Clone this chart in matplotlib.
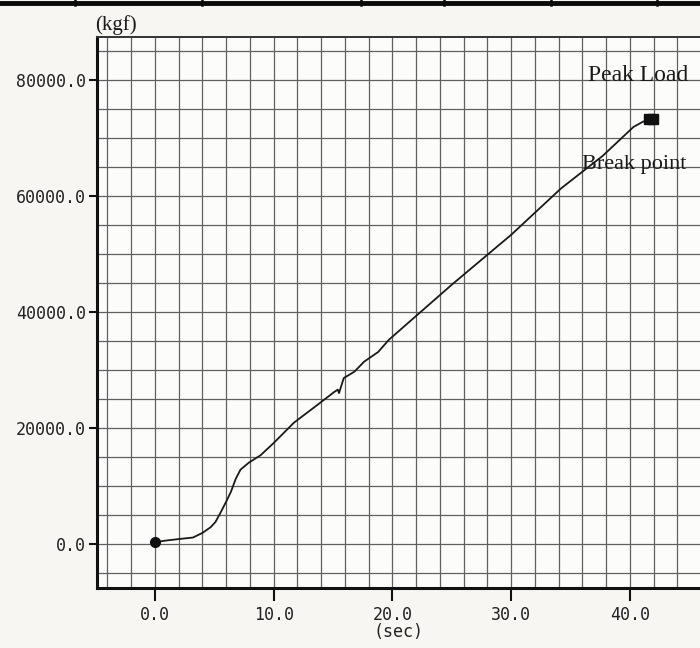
import matplotlib
matplotlib.use("Agg")
import matplotlib.pyplot as plt
import numpy as np

# Load vs time record of a tensile test
time_s = [0.0, 1.0, 2.1, 3.2, 4.0, 4.7, 5.1, 5.5, 6.0, 6.4, 6.8, 7.2, 7.9,
          8.9, 10.0, 11.7, 13.7, 15.1, 15.4, 15.5, 15.9, 16.8, 17.6, 18.8,
          19.7, 25.0, 30.0, 34.2, 37.7, 40.3, 41.1, 41.5, 41.9]
load_kgf = [300, 600, 860, 1100, 1900, 2900, 3800, 5300, 7300, 9000, 11200,
            12800, 14000, 15300, 17400, 20900, 24000, 26200, 26600, 26000,
            28600, 29700, 31400, 33100, 35200, 44700, 53300, 61300, 66900,
            71900, 72800, 73100, 73300]

peak_time, peak_load = 41.9, 73300
break_time, break_load = 41.6, 73200

x_ticks = [0, 10, 20, 30, 40]
x_tick_labels = ["0.0", "10.0", "20.0", "30.0", "40.0"]
y_ticks = [0, 20000, 40000, 60000, 80000]
y_tick_labels = ["0.0", "20000.0", "40000.0", "60000.0", "80000.0"]

W, H = 700, 648
fig = plt.figure(figsize=(W / 100, H / 100), dpi=100, facecolor="#f7f6f3")

left_px, right_px, top_px, bottom_px = 97, 722, 37, 588
ax = fig.add_axes([left_px / W, 1 - bottom_px / H,
                   (right_px - left_px) / W, (bottom_px - top_px) / H])
ax.set_facecolor("#fcfcfa")

ax.set_xlim(-4.88, 47.75)
ax.set_ylim(-7600, 87400)

# Graph-paper grid
for gx in np.arange(-4, 48, 2):
    ax.axvline(gx, color="#606060", lw=0.9, zorder=1)
for gy in np.arange(-5000, 86000, 5000):
    ax.axhline(gy, color="#606060", lw=0.9, zorder=1)

ax.plot(time_s, load_kgf, color="#1a1a1a", lw=1.3, zorder=3)
ax.plot([0], [load_kgf[0]], "o", color="#111111", ms=7, zorder=4)
ax.plot([break_time, peak_time], [break_load, peak_load], "s",
        color="#111111", ms=6.5, zorder=4)

tick_font = {"family": "DejaVu Sans Mono", "size": 12, "color": "#222222"}
ax.set_xticks(x_ticks)
ax.set_xticklabels(x_tick_labels, fontdict=tick_font)
ax.set_yticks(y_ticks)
ax.set_yticklabels(y_tick_labels, fontdict=tick_font)
ax.tick_params(axis="x", direction="out", length=9, width=1.5, pad=4,
               color="#111111")
ax.tick_params(axis="y", direction="out", length=6, width=1.5, pad=2,
               color="#111111")

for side in ("left", "bottom"):
    ax.spines[side].set_linewidth(2.2)
    ax.spines[side].set_color("#111111")
ax.spines["top"].set_linewidth(1.4)
ax.spines["top"].set_color("#333333")
ax.spines["right"].set_visible(False)

serif = "Liberation Serif"
ax.text(36.5, 80800, "Peak Load", family=serif, fontsize=17,
        color="#1a1a1a", va="center", ha="left", zorder=5, clip_on=False)
ax.text(36.0, 65500, "Break point", family=serif, fontsize=16,
        color="#1a1a1a", va="center", ha="left", zorder=5, clip_on=False)

fig.text(95 / W, 1 - 25 / H, "(kgf)", family=serif, fontsize=15,
         color="#1a1a1a", va="center", ha="left")
fig.text(398 / W, 1 - 632 / H, "(sec)", family="DejaVu Sans Mono",
         fontsize=12, color="#222222", va="center", ha="center")

# Ruled header strip along the top edge
fig.add_artist(plt.Line2D([0, 1], [1 - 2.5 / H, 1 - 2.5 / H],
                          transform=fig.transFigure, color="#0a0a0a", lw=3.5))
for sx in [75, 202, 361, 444, 551, 657]:
    fig.add_artist(plt.Line2D([sx / W, sx / W], [1, 1 - 5 / H],
                              transform=fig.transFigure, color="#0a0a0a",
                              lw=1.8))

fig.savefig("out.png", dpi=100, facecolor=fig.get_facecolor())
